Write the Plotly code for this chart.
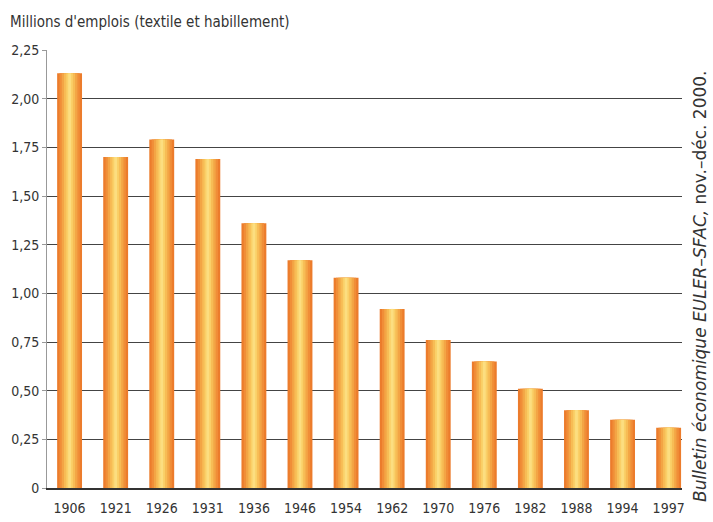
import plotly.graph_objects as go

years = ["1906", "1921", "1926", "1931", "1936", "1946", "1954", "1962",
         "1970", "1976", "1982", "1988", "1994", "1997"]
emplois = [2.13, 1.70, 1.79, 1.69, 1.36, 1.17, 1.08, 0.92,
           0.76, 0.65, 0.51, 0.40, 0.35, 0.31]
y_ticks = [0, 0.25, 0.5, 0.75, 1.0, 1.25, 1.5, 1.75, 2.0, 2.25]
y_ticktext = ["0", "0,25", "0,50", "0,75", "1,00", "1,25", "1,50", "1,75", "2,00", "2,25"]

FONT = "Liberation Sans Narrow, DejaVu Sans Condensed, Arial Narrow, sans-serif"

idx = list(range(len(years)))
layers = [(0.54, "#EC7C2C"), (0.44, "#F08E38"), (0.34, "#F3A545"),
          (0.24, "#F7BC55"), (0.14, "#FAD068"), (0.06, "#FCDE80")]

fig = go.Figure()
for w, c in layers:
    fig.add_trace(go.Bar(x=idx, y=emplois, width=w, marker=dict(color=c, line=dict(width=0)),
                         hoverinfo="skip", showlegend=False))

fig.update_layout(
    barmode="overlay",
    width=713, height=522,
    margin=dict(l=47, r=31, t=50, b=34, autoexpand=False),
    paper_bgcolor="white", plot_bgcolor="white",
    font=dict(family=FONT, color="#333333", size=13),
    title=dict(text="Millions d'emplois (textile et habillement)",
               xref="container", yref="container", x=10/713, y=1-22/522,
               xanchor="left", yanchor="middle",
               font=dict(family=FONT, size=15, color="#333333")),
    xaxis=dict(range=[-0.49, 13.29], tickmode="array", tickvals=idx, ticktext=years,
               showgrid=False, zeroline=False, showline=True, linecolor="#333333",
               linewidth=2, ticks="", ticklabelstandoff=6, automargin=False,
               tickfont=dict(family=FONT, size=14, color="#333333")),
    yaxis=dict(range=[0, 2.25], tickmode="array", tickvals=y_ticks, ticktext=y_ticktext,
               showgrid=True, gridcolor="#444444", gridwidth=1, zeroline=False,
               showline=True, linecolor="#999999", linewidth=1, automargin=False,
               ticks="outside", ticklen=4, tickcolor="#999999",
               tickfont=dict(family=FONT, size=14, color="#333333")),
    annotations=[dict(
        text="<i>Bulletin économique EULER–SFAC,</i> nov.–déc. 2000.",
        xref="paper", yref="paper", x=(700-47)/635, y=(488-287)/438,
        xanchor="center", yanchor="middle", textangle=-90, showarrow=False,
        font=dict(family="DejaVu Sans, sans-serif", size=17, color="#333333"))],
)

fig.write_html("out.html")
